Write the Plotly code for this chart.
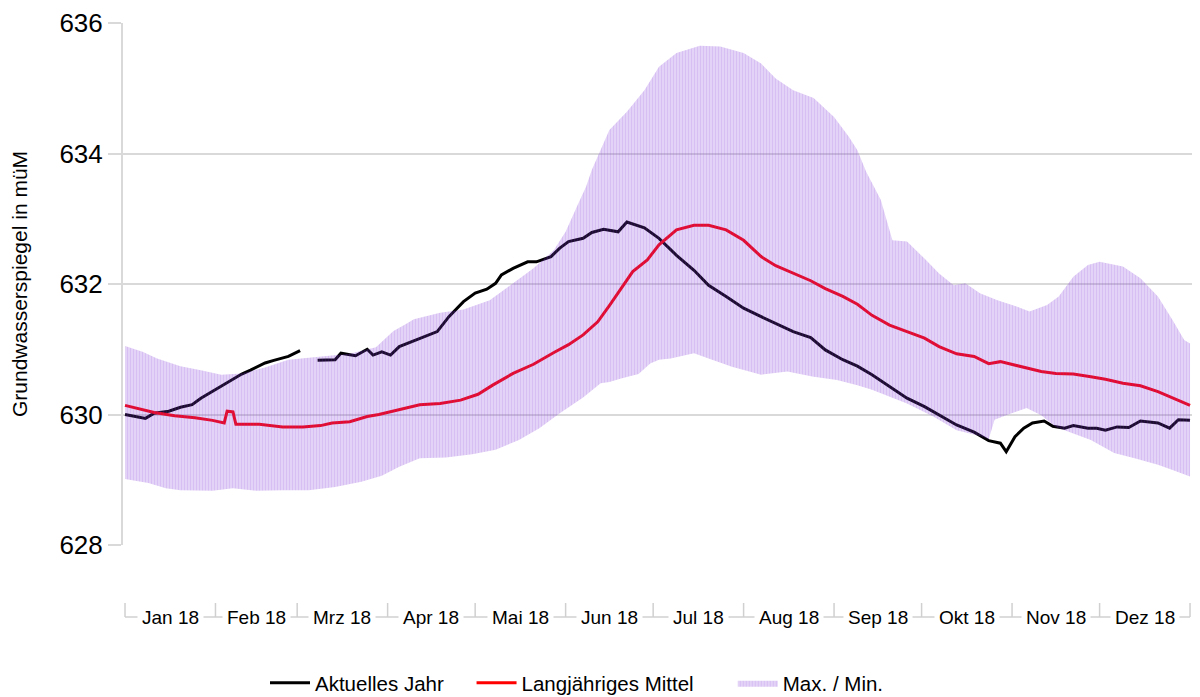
import pandas as pd
import plotly.graph_objects as go

# ---------------- data (day index from 1 Jan 2018, value in m ü.M.) ----------------
cur_days = [0, 4, 7, 10, 15, 19, 23, 26, 31, 35, 40, 43, 48, 51, 56, 60,
            63,
            66, 72, 74, 79, 83, 85, 88, 91, 94, 99, 103, 107, 111, 116, 120, 124,
            127, 129, 133, 138, 141, 146, 149, 152, 157, 160, 164, 169, 172, 178,
            183, 189, 195, 200, 206, 212, 218, 223, 229, 235, 240, 246, 251, 256,
            262, 268, 274, 279, 285, 291, 296, 300, 302, 305, 308, 311, 315, 318,
            322, 325, 330, 333, 336, 340, 344, 348, 354, 358, 361, 365]
cur_vals = [630.00, 629.97, 629.94, 630.02, 630.05, 630.11, 630.15, 630.25, 630.38,
            630.49, 630.62, 630.68, 630.79, 630.83, 630.89, 630.98,
            None,
            630.83, 630.84, 630.94, 630.90, 631.00, 630.91, 630.96, 630.91, 631.04,
            631.13, 631.19, 631.27, 631.50, 631.73, 631.86, 631.92, 632.01, 632.14,
            632.24, 632.34, 632.34, 632.42, 632.55, 632.65, 632.70, 632.79, 632.84,
            632.80, 632.95, 632.86, 632.70, 632.44, 632.21, 631.98, 631.81, 631.63,
            631.50, 631.39, 631.27, 631.18, 630.99, 630.84, 630.74, 630.61, 630.43,
            630.25, 630.12, 629.99, 629.84, 629.73, 629.60, 629.56, 629.43, 629.66,
            629.79, 629.87, 629.90, 629.82, 629.79, 629.83, 629.79, 629.79, 629.76,
            629.81, 629.80, 629.90, 629.87, 629.79, 629.92, 629.91]

mean_days = [0, 5, 10, 17, 24, 30, 34, 35, 37, 38, 46, 54, 61, 67, 71, 77, 83, 87,
             92, 94, 101, 108, 115, 121, 126, 133, 140, 147, 152, 157, 162, 166,
             170, 174, 179, 183, 189, 195, 200, 206, 212, 218, 223, 229, 235, 240,
             246, 251, 256, 262, 268, 274, 279, 285, 291, 296, 300, 308, 314, 319,
             325, 331, 336, 342, 348, 354, 359, 365]
mean_vals = [630.14, 630.09, 630.03, 629.98, 629.95, 629.91, 629.87, 630.05, 630.04,
             629.85, 629.85, 629.81, 629.81, 629.83, 629.87, 629.89, 629.97, 630.00,
             630.05, 630.08, 630.15, 630.17, 630.22, 630.31, 630.45, 630.63, 630.77,
             630.95, 631.07, 631.22, 631.42, 631.67, 631.93, 632.19, 632.37, 632.60,
             632.83, 632.90, 632.90, 632.83, 632.67, 632.42, 632.28, 632.16, 632.05,
             631.93, 631.81, 631.69, 631.52, 631.37, 631.27, 631.17, 631.04, 630.93,
             630.89, 630.78, 630.81, 630.72, 630.66, 630.63, 630.62, 630.58, 630.54,
             630.48, 630.44, 630.35, 630.25, 630.14]

max_days = [0, 6, 11, 19, 26, 33, 40, 48, 56, 65, 77, 86, 92, 96, 99, 108, 116, 125,
            133, 140, 147, 151, 155, 158, 160, 163, 166, 172, 178, 183, 189, 197,
            204, 212, 218, 223, 229, 236, 243, 248, 251, 254, 259, 263, 268, 274,
            279, 284, 288, 293, 299, 304, 310, 316, 320, 325, 330, 334, 342, 348,
            354, 359, 363, 365]
max_vals = [631.05, 630.96, 630.86, 630.74, 630.68, 630.61, 630.63, 630.72, 630.84,
            630.88, 630.93, 631.03, 631.28, 631.38, 631.46, 631.56, 631.61, 631.75,
            632.01, 632.24, 632.52, 632.80, 633.20, 633.49, 633.75, 634.07, 634.36,
            634.64, 634.97, 635.33, 635.54, 635.65, 635.64, 635.54, 635.38, 635.15,
            634.97, 634.85, 634.56, 634.26, 634.05, 633.72, 633.29, 632.67, 632.65,
            632.39, 632.16, 631.98, 632.01, 631.86, 631.75, 631.68, 631.58, 631.68,
            631.81, 632.11, 632.29, 632.34, 632.27, 632.09, 631.81, 631.45, 631.14,
            631.09]

min_days = [0, 8, 14, 19, 30, 37, 45, 54, 63, 72, 81, 88, 94, 101, 110, 119, 127,
            135, 142, 149, 157, 163, 166, 170, 176, 180, 183, 187, 195, 200, 208,
            218, 227, 236, 244, 251, 256, 268, 277, 285, 294, 296, 298, 302, 309,
            314, 319, 325, 331, 339, 346, 354, 359, 365]
min_vals = [629.01, 628.95, 628.87, 628.84, 628.83, 628.87, 628.83, 628.84, 628.84,
            628.89, 628.97, 629.06, 629.20, 629.33, 629.34, 629.39, 629.46, 629.61,
            629.79, 630.02, 630.26, 630.48, 630.50, 630.55, 630.62, 630.78, 630.84,
            630.86, 630.94, 630.86, 630.73, 630.61, 630.66, 630.58, 630.53, 630.45,
            630.38, 630.17, 629.97, 629.76, 629.66, 629.62, 629.92, 629.99, 630.10,
            629.99, 629.81, 629.71, 629.61, 629.41, 629.33, 629.23, 629.15, 629.05]

month_labels = ["Jan 18", "Feb 18", "Mrz 18", "Apr 18", "Mai 18", "Jun 18",
                "Jul 18", "Aug 18", "Sep 18", "Okt 18", "Nov 18", "Dez 18"]

y_ticks = [628, 630, 632, 634, 636]

series_names = ["Aktuelles Jahr", "Langjähriges Mittel", "Max. / Min."]

# ---------------- helpers ----------------
base = pd.Timestamp("2018-01-01")


def to_dates(days):
    return [base + pd.Timedelta(days=d) for d in days]


FONT = "Liberation Sans, Arial, sans-serif"
GRID = "#d9d9d9"
BAND = "rgba(127,54,218,0.19)"
BAND_FG = "rgba(127,54,218,0.32)"
NBSP = "\u00a0"

fig = go.Figure()

fig.add_trace(go.Scatter(
    x=to_dates(cur_days), y=cur_vals, mode="lines",
    name=series_names[0] + NBSP * 4,
    line=dict(color="#000000", width=3), connectgaps=False,
))
fig.add_trace(go.Scatter(
    x=to_dates(mean_days), y=mean_vals, mode="lines",
    name=series_names[1] + NBSP * 6,
    line=dict(color="#ff0000", width=3),
))
band_x = to_dates(max_days) + to_dates(min_days[::-1])
band_y = max_vals + min_vals[::-1]
fig.add_trace(go.Scatter(
    x=band_x, y=band_y, mode="lines", name=series_names[2], fill="toself",
    fillcolor=BAND, line=dict(width=0, color=BAND),
    fillpattern=dict(shape="|", fgcolor=BAND_FG, bgcolor=BAND, size=3, solidity=0.5),
    hoverinfo="skip",
))

# ---------------- geometry (screen pixels; page body has an 8px margin) ----------------
OFF = 8
SCREEN_W, SCREEN_H = 1200, 697
plot_left, plot_right = 123, 1195
plot_top, plot_bottom = 23, 545
H = plot_bottom - plot_top
W = plot_right - plot_left


def py(pix):
    return (plot_bottom - pix) / H


def px(pix):
    return (pix - plot_left) / W


month_starts = [base + pd.DateOffset(months=i) for i in range(13)]
month_mids = [month_starts[i] + (month_starts[i + 1] - month_starts[i]) / 2 for i in range(12)]

shapes = [dict(type="line", xref="x", yref="paper", x0=month_starts[0], x1=month_starts[-1],
               y0=py(617), y1=py(617), line=dict(color="#d0d0d0", width=1.5))]
for ms in month_starts:
    shapes.append(dict(type="line", xref="x", yref="paper", x0=ms, x1=ms,
                       y0=py(603), y1=py(617), line=dict(color="#d0d0d0", width=1.5)))

annotations = []
for lab, mid in zip(month_labels, month_mids):
    annotations.append(dict(x=mid, xref="x", y=py(617), yref="paper", text=lab,
                            showarrow=False, yanchor="middle", xanchor="center",
                            bgcolor="white", borderpad=4,
                            font=dict(family=FONT, size=19, color="#000000")))

x_start = base + pd.Timedelta(days=-0.69)
x_end = base + pd.Timedelta(days=366.7)

fig.update_layout(
    width=SCREEN_W - OFF, height=SCREEN_H - OFF,
    margin=dict(l=plot_left - OFF, r=SCREEN_W - plot_right, t=plot_top - OFF,
                b=SCREEN_H - plot_bottom, autoexpand=False),
    paper_bgcolor="white", plot_bgcolor="white",
    font=dict(family=FONT, color="#000000"),
    showlegend=True,
    legend=dict(orientation="h", x=px(265), xanchor="left", y=py(683), yanchor="middle",
                font=dict(family=FONT, size=20.5), traceorder="normal",
                itemwidth=40),
    xaxis=dict(range=[x_start, x_end], showgrid=False, zeroline=False,
               showticklabels=False, showline=False, ticks="", automargin=False),
    yaxis=dict(range=[628, 636], tickvals=y_ticks, ticktext=[str(v) for v in y_ticks],
               showgrid=True, gridcolor=GRID, gridwidth=2, zeroline=False,
               showline=True, linecolor=GRID, linewidth=2, automargin=False,
               ticks="outside", ticklen=13, tickcolor=GRID, tickwidth=2,
               tickfont=dict(family=FONT, size=26, color="#000000"),
               title=dict(text="Grundwasserspiegel in müM", standoff=28,
                          font=dict(family=FONT, size=21, color="#000000"))),
    shapes=shapes, annotations=annotations,
)

fig.write_html("out.html")
